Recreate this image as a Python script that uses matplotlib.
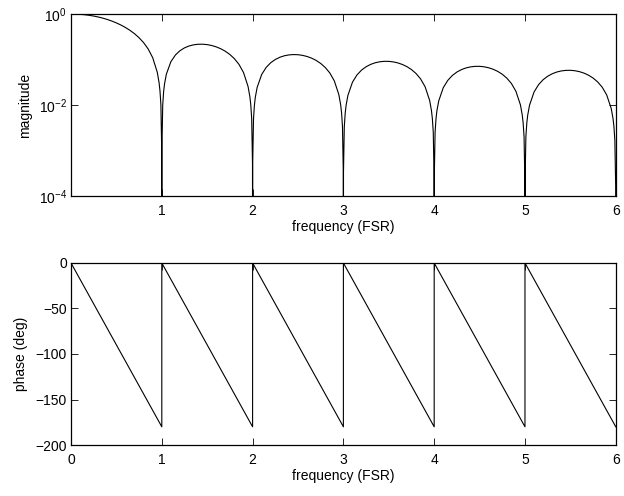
import matplotlib
matplotlib.use("Agg")
import matplotlib.pyplot as plt
import numpy as np

plt.rcParams['font.family'] = ['Liberation Sans', 'DejaVu Sans']
plt.rcParams['mathtext.fontset'] = 'custom'
plt.rcParams['mathtext.rm'] = 'Liberation Sans'
plt.rcParams['font.size'] = 10

# magnitude response
freq_mag = [0.00, 0.05, 0.10, 0.15, 0.20, 0.25, 0.30, 0.35, 0.40, 0.45,
            0.50, 0.55, 0.60, 0.65, 0.70, 0.75, 0.80, 0.85, 0.90, 0.95,
            0.97, 0.98, 0.99, 0.999, 1.0, 1.001, 1.01, 1.02, 1.03,
            1.05, 1.10, 1.15, 1.20, 1.25, 1.30, 1.35, 1.40, 1.45,
            1.50, 1.55, 1.60, 1.65, 1.70, 1.75, 1.80, 1.85, 1.90, 1.95,
            1.97, 1.98, 1.99, 1.999, 2.0, 2.001, 2.01, 2.02, 2.03,
            2.05, 2.10, 2.15, 2.20, 2.25, 2.30, 2.35, 2.40, 2.45,
            2.50, 2.55, 2.60, 2.65, 2.70, 2.75, 2.80, 2.85, 2.90, 2.95,
            2.97, 2.98, 2.99, 2.999, 3.0, 3.001, 3.01, 3.02, 3.03,
            3.05, 3.10, 3.15, 3.20, 3.25, 3.30, 3.35, 3.40, 3.45,
            3.50, 3.55, 3.60, 3.65, 3.70, 3.75, 3.80, 3.85, 3.90, 3.95,
            3.97, 3.98, 3.99, 3.999, 4.0, 4.001, 4.01, 4.02, 4.03,
            4.05, 4.10, 4.15, 4.20, 4.25, 4.30, 4.35, 4.40, 4.45,
            4.50, 4.55, 4.60, 4.65, 4.70, 4.75, 4.80, 4.85, 4.90, 4.95,
            4.97, 4.98, 4.99, 4.999, 5.0, 5.001, 5.01, 5.02, 5.03,
            5.05, 5.10, 5.15, 5.20, 5.25, 5.30, 5.35, 5.40, 5.45,
            5.50, 5.55, 5.60, 5.65, 5.70, 5.75, 5.80, 5.85, 5.90, 5.95,
            5.97, 5.98, 5.99, 5.999, 6.0]
magnitude = [1.0, 0.99589, 0.98363, 0.96340, 0.93549, 0.90032, 0.85839, 0.81033, 0.75683, 0.69865,
             0.63662, 0.57162, 0.50455, 0.43634, 0.36789, 0.30011, 0.23387, 0.17001, 0.10929, 0.05241,
             0.030882, 0.020395, 0.010100, 0.0010010, 0.0, 0.00099900, 0.0098994, 0.019595, 0.029083,
             0.04742, 0.08942, 0.12566, 0.15592, 0.18006, 0.19809, 0.21009, 0.21624, 0.21682,
             0.21221, 0.20283, 0.18921, 0.17189, 0.15148, 0.12862, 0.10394, 0.07811, 0.05177, 0.02554,
             0.015206, 0.010094, 0.005024, 0.0005005, 0.0, 0.0004998, 0.004974, 0.009895, 0.014757,
             0.02429, 0.04684, 0.06721, 0.08505, 0.10004, 0.11196, 0.12069, 0.12614, 0.12832,
             0.12732, 0.12329, 0.11644, 0.10703, 0.09538, 0.08185, 0.06682, 0.05071, 0.03392, 0.01688,
             0.010086, 0.006707, 0.003344, 0.0003336, 0.0, 0.0003332, 0.003322, 0.006618, 0.009886,
             0.01633, 0.03173, 0.04588, 0.05847, 0.06925, 0.07804, 0.08466, 0.08904, 0.09113,
             0.09095, 0.08856, 0.08409, 0.07770, 0.06960, 0.06002, 0.04924, 0.03754, 0.02522, 0.01261,
             0.007546, 0.005022, 0.002506, 0.0002501, 0.0, 0.0002499, 0.002493, 0.004972, 0.007433,
             0.01229, 0.02399, 0.03482, 0.04455, 0.05296, 0.05989, 0.06520, 0.06880, 0.07065,
             0.07074, 0.06910, 0.06581, 0.06099, 0.05479, 0.04739, 0.03898, 0.02980, 0.02007, 0.01006,
             0.006027, 0.004013, 0.002004, 0.0002000, 0.0, 0.0002000, 0.001996, 0.003981, 0.005955,
             0.009860, 0.01929, 0.02806, 0.03598, 0.04287, 0.04859, 0.05301, 0.05606, 0.05769,
             0.05787, 0.05665, 0.05406, 0.05020, 0.04518, 0.03914, 0.03226, 0.02470, 0.01667, 0.008369,
             0.005018, 0.003342, 0.001669, 0.0001667, 0.0]

# phase response (sawtooth), bottom panel
freq_phase = [0, 1, 1, 2, 2, 3, 3, 4, 4, 5, 5, 6]
phase = [0, -180, 0, -180, 0, -180, 0, -180, 0, -180, 0, -180]

mag_xticks = [1, 2, 3, 4, 5, 6]
mag_yticks = [1e-4, 1e-2, 1e0]
phase_xticks = [0, 1, 2, 3, 4, 5, 6]
phase_yticks = [-200, -150, -100, -50, 0]


def style_axes(ax):
    ax.tick_params(direction='in', top=True, right=True, length=5, width=0.6, pad=3)
    ax.tick_params(axis='x', pad=6)
    ax.tick_params(which='minor', left=False, right=False)
    for sp in ax.spines.values():
        sp.set_linewidth(0.9)


fig = plt.figure(figsize=(6.24, 4.96), dpi=100)
ax1 = fig.add_axes([0.1138, 0.6048, 0.873, 0.367])
ax2 = fig.add_axes([0.1138, 0.1028, 0.873, 0.367])

ax1.plot(freq_mag, magnitude, color='black', linewidth=0.8)
ax1.set_yscale('log', nonpositive='clip')
ax1.set_xlim(0, 6)
ax1.set_ylim(1e-4, 1e0)
ax1.set_xticks(mag_xticks)
ax1.set_yticks(mag_yticks)
ax1.minorticks_off()
ax1.set_xlabel('frequency (FSR)', labelpad=1)
ax1.set_ylabel('magnitude', labelpad=5)
style_axes(ax1)

ax2.plot(freq_phase, phase, color='black', linewidth=0.8)
ax2.set_xlim(0, 6)
ax2.set_ylim(-200, 0)
ax2.set_xticks(phase_xticks)
ax2.set_yticks(phase_yticks)
ax2.set_xlabel('frequency (FSR)', labelpad=1)
ax2.set_ylabel('phase (deg)', labelpad=5)
style_axes(ax2)

fig.savefig('out.png', dpi=100)
